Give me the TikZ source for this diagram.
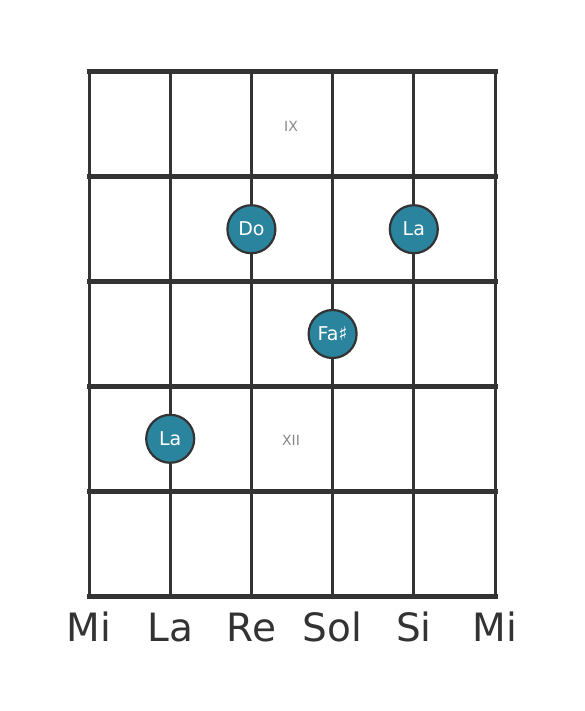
\documentclass[tikz,border=0pt]{standalone}
\usepackage{fontspec}
\setmainfont{DejaVu Sans}
\definecolor{gridc}{HTML}{333333}
\definecolor{notec}{HTML}{2A849E}
\definecolor{fretc}{HTML}{888888}
\tikzset{
  hline/.style={draw=gridc, line width=5pt, line cap=rect},
  vline/.style={draw=gridc, line width=3pt},
  note/.style={circle, draw=gridc, line width=2.2pt, fill=notec, minimum size=48pt, inner sep=0pt, text=white, font=\fontsize{19}{19}\selectfont},
  fretlbl/.style={text=fretc, font=\fontsize{14}{14}\selectfont},
  strlbl/.style={text=gridc, font=\fontsize{39}{39}\selectfont, anchor=base},
}
\begin{document}
\begin{tikzpicture}[x=1pt,y=-1pt]
\useasboundingbox (0,0) rectangle (584,711);
% vertical strings
\foreach \x in {89,170.2,251.4,332.6,413.8,495}{
  \draw[vline] (\x,72) -- (\x,596);
}
% horizontal frets
\foreach \y in {72,176.8,281.6,386.4,491.2,596}{
  \draw[hline] (89,\y) -- (495,\y);
}
\node[fretlbl] (ix) at (291,126) {IX};
\node[fretlbl] (xii) at (291,440) {XII};
\node[note] (do) at (251.4,229.2) {Do};
\node[note] (la1) at (413.8,229.2) {La};
\node[note] (fa) at (332.6,334) {Fa♯};
\node[note] (la2) at (170.2,438.8) {La};
\node[strlbl] (s1) at (89,641) {Mi};
\node[strlbl] (s2) at (170.2,641) {La};
\node[strlbl] (s3) at (251.4,641) {Re};
\node[strlbl] (s4) at (332.6,641) {Sol};
\node[strlbl] (s5) at (413.8,641) {Si};
\node[strlbl] (s6) at (495,641) {Mi};
\end{tikzpicture}
\end{document}
